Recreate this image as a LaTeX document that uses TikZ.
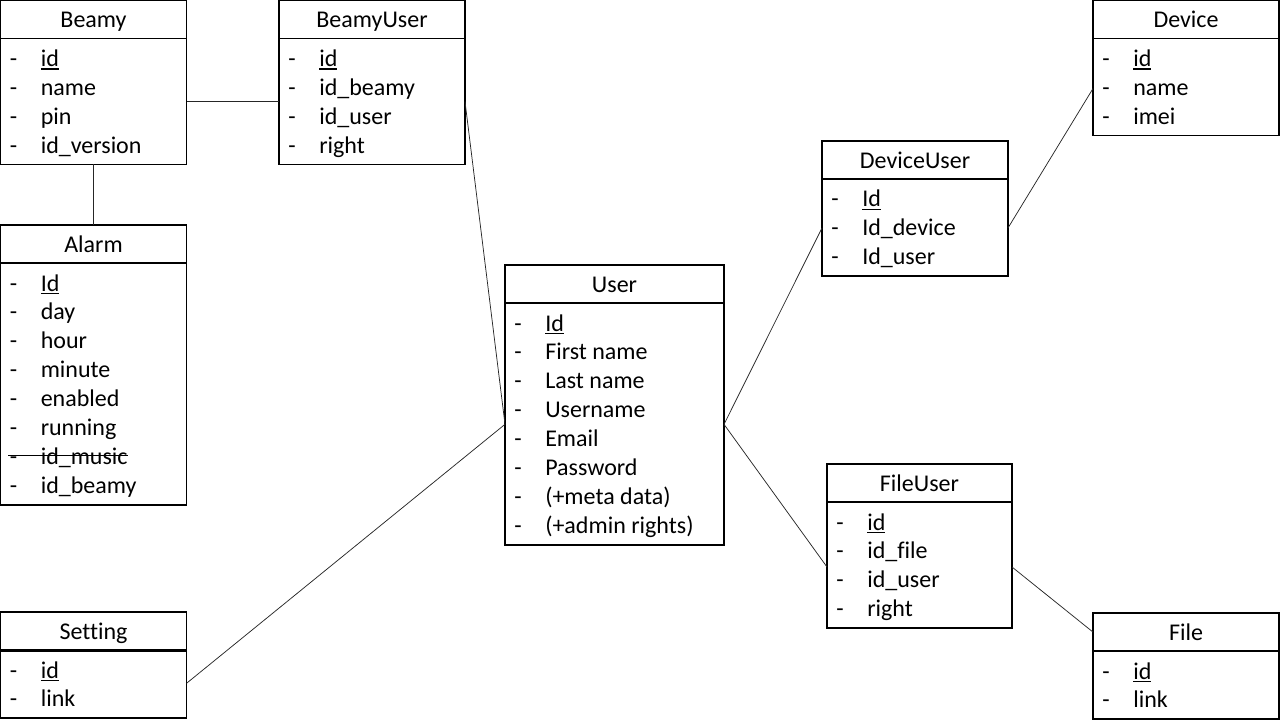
\documentclass[tikz,border=0pt]{standalone}
\usepackage{fontspec}
\setmainfont{Carlito}[Ligatures=NoCommon]
\usetikzlibrary{calc}
\newsavebox\keybox
\newcommand\keyul[1]{\sbox\keybox{#1}\rlap{\rule[-2.6pt]{\wd\keybox}{1.2pt}}\usebox\keybox}
\tikzset{
  erframe/.style={draw=black, line width=0.8pt, inner sep=0pt, outer sep=0pt, fill=white},
  erhead/.style={inner sep=0pt, font=\fontsize{18}{22}\selectfont},
  eritem/.style={inner sep=0pt, font=\fontsize{18}{22}\selectfont},
  erdash/.style={inner sep=0pt, font=\fontsize{18}{22}\selectfont},
  erline/.style={draw=black, line width=0.8pt},
  conn/.style={draw=black!85, line width=0.55pt},
}
% #1 name, #2 left, #3 top, #4 width, #5 title, #6 item count, #7 items
\newcommand\erbox[7]{%
  \node[erframe, anchor=north west, minimum width={#4*0.75pt}, minimum height={(48+29*#6)*0.75pt}] (#1) at (#2,#3) {};
  \node[erhead, anchor=base] (#1-title) at (#2+#4/2, #3+27.5) {#5};
  \draw[erline] ($(#1.north west)+(0,38)$) -- ($(#1.north east)+(0,38)$);
  \foreach \t [count=\i from 0] in {#7} {
    \node[erdash, anchor=base] (#1-d\i) at (#2+13, #3+66+28.9*\i) {-};
    \node[eritem, anchor=base west] (#1-\i) at (#2+40, #3+66+28.9*\i) {\t};
  }
}
\begin{document}
\begin{tikzpicture}[x=0.75pt,y=-0.75pt]
\useasboundingbox[fill=white] (0,0) rectangle (1280,720);

\erbox{beamy}{0.5}{0.5}{186}{Beamy}{4}{{\keyul{id}},name,pin,id\_version}
\erbox{beamyuser}{279}{0.5}{186}{BeamyUser}{4}{{\keyul{id}},id\_beamy,id\_user,right}
\erbox{alarm}{0.5}{225}{186}{Alarm}{8}{{\keyul{Id}},day,hour,minute,enabled,running,id\_music,id\_beamy}
\erbox{setting}{0.5}{612}{186}{Setting}{2}{{\keyul{id}},link}
\erbox{user}{505}{265}{219}{User}{8}{{\keyul{Id}},First name,Last name,Username,Email,Password,(+meta data),(+admin rights)}
\erbox{device}{1093}{0.5}{186}{Device}{3}{{\keyul{id}},name,imei}
\erbox{deviceuser}{822}{141}{186}{DeviceUser}{3}{{\keyul{Id}},Id\_device,Id\_user}
\erbox{fileuser}{827}{464}{185}{FileUser}{4}{{\keyul{id}},id\_file,id\_user,right}
\erbox{file}{1093}{613}{186}{File}{2}{{\keyul{id}},link}

% thicker divider in Setting
\draw[black, line width=1.5pt] ($(setting.north west)+(0,39)$) -- ($(setting.north east)+(0,39)$);

% strike-through of id_music
\draw[black, line width=1.2pt] ([yshift=6.6pt,xshift=-1pt]alarm-d6.base west) -- ([yshift=6.6pt]alarm-6.base east);

% attachment points
\coordinate (beamyR) at ($(beamy.north east)!0.616!(beamy.south east)$);
\coordinate (beamyuserL) at ($(beamyuser.north west)!0.616!(beamyuser.south west)$);
\coordinate (beamyuserR) at ($(beamyuser.north east)!0.616!(beamyuser.south east)$);
\coordinate (userL) at ($(user.north west)!0.569!(user.south west)$);
\coordinate (userR) at ($(user.north east)!0.569!(user.south east)$);
\coordinate (settingR) at ($(setting.north east)!0.673!(setting.south east)$);
\coordinate (deviceuserL) at ($(deviceuser.north west)!0.644!(deviceuser.south west)$);
\coordinate (deviceuserR) at ($(deviceuser.north east)!0.644!(deviceuser.south east)$);
\coordinate (deviceL) at ($(device.north west)!0.652!(device.south west)$);
\coordinate (fileuserL) at ($(fileuser.north west)!0.628!(fileuser.south west)$);
\coordinate (fileuserR) at ($(fileuser.north east)!0.628!(fileuser.south east)$);
\coordinate (fileL) at ($(file.north west)!0.18!(file.south west)$);

% connectors
\draw[conn] (beamyR) -- (beamyuserL);
\draw[conn] (beamy.south) -- (alarm.north);
\draw[conn] (beamyuserR) -- (userL);
\draw[conn] (settingR) -- (userL);
\draw[conn] (userR) -- (deviceuserL);
\draw[conn] (deviceuserR) -- (deviceL);
\draw[conn] (userR) -- (fileuserL);
\draw[conn] (fileuserR) -- (fileL);
\end{tikzpicture}
\end{document}
